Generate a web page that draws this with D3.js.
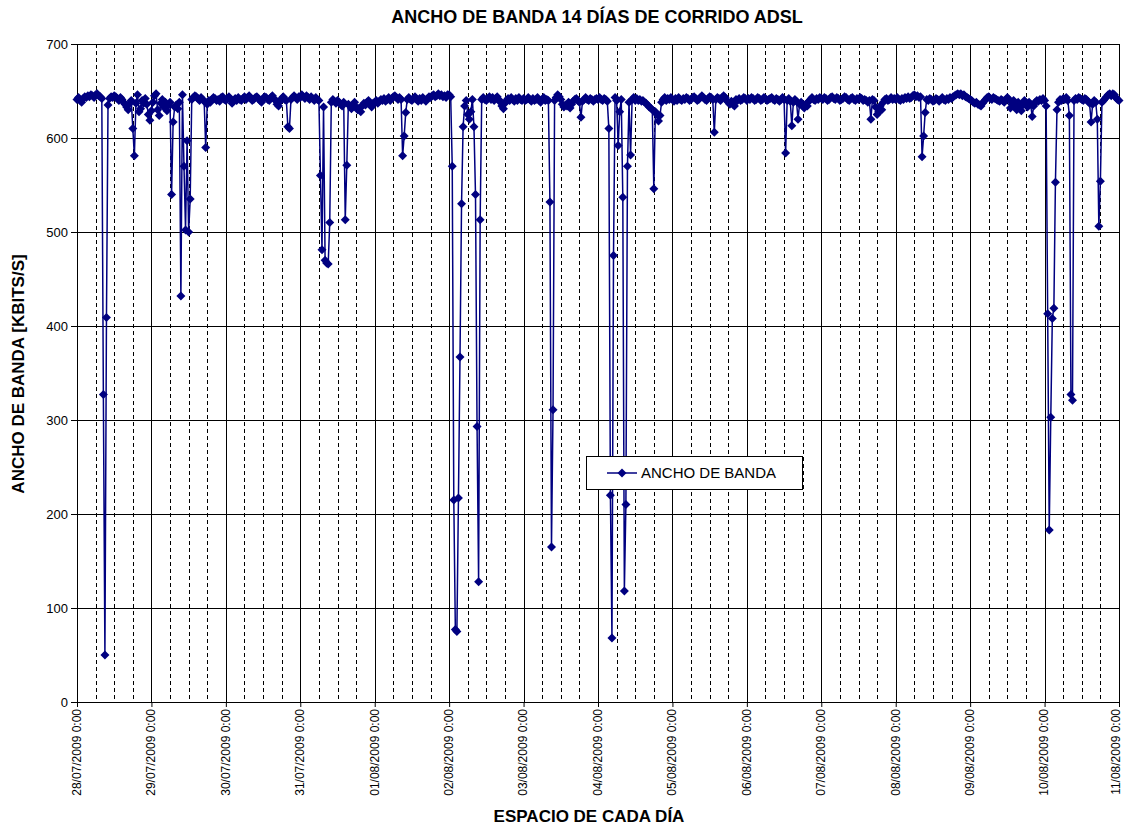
<!DOCTYPE html>
<html>
<head>
<meta charset="utf-8">
<script src="https://cdn.jsdelivr.net/npm/d3@7"></script>
<style>
  body { margin: 0; background: #fff; }
  text { font-family: Arial, "Liberation Sans", sans-serif; fill: #000; }
</style>
</head>
<body>
<svg id="chart" width="1124" height="827"></svg>
<script>
// Bandwidth samples (kbit/s), one every 30 minutes, one array per day
const seriesName = "ANCHO DE BANDA";
const startDate = new Date(2009, 6, 28, 0, 0);
const endDate = new Date(2009, 7, 11, 0, 0);
const stepMinutes = 30;
const yTicks = [0, 100, 200, 300, 400, 500, 600, 700];

const day0728 = [641,643,640,638,642,644,643,645,644,646, 645,643,646,647,645,644,642,327,50,409, 635,642,644,643,645,644,642,640,643,641, 638,636,633,630,637,640,610,581,637,646, 628,631,640,637,642,636,625,619];
const day0729 = [629,638,645,647,630,624,637,641,633,638, 629,635,638,540,617,633,635,631,638,432, 646,570,502,597,500,535,641,643,645,644, 642,640,643,641,639,590,636,640,638,641, 643,642,640,641,639,643,644,641];
const day0730 = [640,642,644,641,637,639,642,640,643,641, 640,642,644,641,643,645,642,640,641,643, 644,642,640,638,642,644,643,641,640,643, 645,642,640,636,634,639,642,644,641,640, 612,610,641,643,645,643,641,644];
const day0731 = [643,646,644,642,645,643,641,644,642,640, 643,641,640,560,481,633,470,467,466,510, 638,641,639,637,640,638,636,634,638,513, 571,636,634,631,635,638,633,630,632,628, 634,637,635,638,640,636,633,637];
const day0801 = [638,640,637,639,641,640,642,639,641,643, 640,642,644,645,643,641,643,641,581,602, 627,641,643,641,640,642,644,641,639,642, 640,643,641,639,642,644,643,645,646,644, 645,647,645,646,644,645,643,646];
const day0802 = [646,644,570,215,77,75,217,367,530,612, 634,640,625,620,628,641,612,540,293,128, 513,641,643,641,640,642,644,641,643,640, 642,644,641,638,634,631,637,640,642,640, 643,641,639,642,640,643,641,640];
const day0803 = [642,640,641,643,641,639,642,640,641,643, 640,638,641,643,640,641,640,532,165,311, 640,643,646,644,641,636,633,635,634,638, 632,636,639,641,642,640,638,622,639,641, 643,641,640,642,641,639,641,642];
const day0804 = [641,643,641,640,642,641,639,610,220,68, 475,643,640,592,628,641,537,118,210,570, 638,582,641,643,640,642,640,641,639,640, 638,637,635,633,632,630,546,628,625,618, 624,638,641,643,640,642,641,643];
const day0805 = [641,639,642,640,643,641,640,642,641,643, 642,640,641,643,644,642,640,641,643,645, 643,641,640,642,644,643,641,606,641,643, 642,640,643,645,643,640,638,636,639,636, 634,641,640,642,640,641,643,642];
const day0806 = [640,642,641,643,642,640,641,643,642,640, 641,643,642,640,641,642,643,641,640,642, 641,639,641,643,641,584,640,642,639,613, 638,641,639,620,636,638,634,632,636,634, 639,641,643,641,640,642,641,643];
const day0807 = [642,641,643,642,640,641,643,644,642,641, 643,642,640,641,642,644,643,641,640,642, 643,641,640,642,641,643,642,640,641,640, 638,640,620,641,640,633,625,628,634,630, 638,641,642,640,641,643,641,642];
const day0808 = [641,643,641,640,642,641,643,642,644,642, 643,645,646,644,645,643,644,580,602,627, 641,640,642,641,639,640,642,641,639,641, 643,641,640,642,641,643,642,644,645,646, 647,646,647,645,646,644,643,642];
const day0809 = [641,640,638,637,638,636,635,634,637,639, 641,643,644,642,641,643,642,641,640,639, 641,640,638,641,643,641,632,636,640,634, 630,638,632,629,636,640,637,633,638,636, 623,634,638,640,639,641,640,642];
const day0810 = [640,634,413,183,303,408,419,553,630,638, 641,640,642,641,643,640,624,327,321,640, 642,641,643,642,641,640,642,641,639,637, 617,636,640,638,620,506,554,638,640,642, 644,646,647,645,647,646,643,641];
const day0811 = [640];

const dayArrays = [day0728, day0729, day0730, day0731, day0801, day0802, day0803,
                   day0804, day0805, day0806, day0807, day0808, day0809, day0810, day0811];

const values = dayArrays.flat();
const data = values.map((v, i) => ({
  t: new Date(startDate.getTime() + i * stepMinutes * 60000),
  v: v
}));

const W = 1124, H = 827;
const plot = { left: 77, right: 1119, top: 44, bottom: 702 };
const navy = "#000080";

const svg = d3.select("#chart");
svg.append("rect").attr("width", W).attr("height", H).attr("fill", "#fff");

const x = d3.scaleTime().domain([startDate, endDate]).range([plot.left, plot.right]);
const y = d3.scaleLinear().domain([0, 700]).range([plot.bottom, plot.top]);

const crisp = v => Math.round(v) + 0.5;

// Vertical grid: solid at midnight, dashed every 6 hours in between
const grid = svg.append("g");
const sixHours = d3.timeHour.every(6).range(startDate, d3.timeHour.offset(endDate, 1));
grid.selectAll("line.v")
  .data(sixHours)
  .join("line")
  .attr("x1", d => crisp(x(d)))
  .attr("x2", d => crisp(x(d)))
  .attr("y1", plot.top)
  .attr("y2", plot.bottom)
  .attr("stroke", "#000")
  .attr("stroke-width", 1)
  .attr("stroke-dasharray", d => d.getHours() === 0 ? null : "4,3");

// Horizontal grid every 100
grid.selectAll("line.h")
  .data(yTicks.filter(d => d > 0))
  .join("line")
  .attr("x1", plot.left)
  .attr("x2", plot.right)
  .attr("y1", d => crisp(y(d)))
  .attr("y2", d => crisp(y(d)))
  .attr("stroke", "#000")
  .attr("stroke-width", 1);

// Axes
const yAxis = svg.append("g")
  .attr("transform", `translate(${crisp(plot.left) - 0.5},0)`)
  .call(d3.axisLeft(y).tickValues(yTicks).tickSize(6).tickPadding(3).tickFormat(d3.format("d")));
yAxis.select(".domain").attr("stroke", "#000");
yAxis.selectAll(".tick line").attr("stroke", "#000");
yAxis.selectAll("text").style("font-size", "13px").attr("font-family", "Arial, 'Liberation Sans', sans-serif");

const fmt = d3.timeFormat("%d/%m/%Y %-H:%M");
const xAxis = svg.append("g")
  .attr("transform", `translate(0,${crisp(plot.bottom) - 0.5})`)
  .call(d3.axisBottom(x).ticks(d3.timeDay.every(1)).tickFormat(fmt).tickSize(5).tickSizeOuter(0));
xAxis.select(".domain").attr("stroke", "#000");
xAxis.selectAll(".tick line").attr("stroke", "#000");
const lastTime = +endDate;
xAxis.selectAll("text")
  .style("font-size", "12px")
  .attr("font-family", "Arial, 'Liberation Sans', sans-serif")
  .attr("transform", "rotate(-90)")
  .attr("text-anchor", "end")
  .attr("x", -7)
  .attr("y", 0)
  // the rightmost label is nudged inward so it stays inside the page
  .attr("dy", d => +d === lastTime ? "0.05em" : "0.28em");

// Series line and markers
const line = d3.line().x(d => x(d.t)).y(d => y(d.v));
svg.append("path")
  .datum(data)
  .attr("fill", "none")
  .attr("stroke", navy)
  .attr("stroke-width", 1.5)
  .attr("stroke-linejoin", "round")
  .attr("d", line);

const diamond = "M0,-4.5L4.5,0L0,4.5L-4.5,0Z";
svg.append("g")
  .selectAll("path")
  .data(data)
  .join("path")
  .attr("transform", d => `translate(${x(d.t)},${y(d.v)})`)
  .attr("d", diamond)
  .attr("fill", navy);

// Legend
const lg = svg.append("g").attr("transform", "translate(586,456)");
lg.append("rect").attr("x", 0.5).attr("y", 0.5).attr("width", 216).attr("height", 33)
  .attr("fill", "#fff").attr("stroke", "#000").attr("stroke-width", 1);
lg.append("line").attr("x1", 21).attr("x2", 51).attr("y1", 17).attr("y2", 17)
  .attr("stroke", navy).attr("stroke-width", 1.5);
lg.append("path").attr("d", diamond).attr("transform", "translate(36,17)").attr("fill", navy);
lg.append("text").attr("x", 55).attr("y", 17).attr("dy", "0.35em")
  .style("font-size", "15px").text(seriesName);

// Titles
svg.append("text")
  .attr("x", 597).attr("y", 23)
  .attr("text-anchor", "middle")
  .style("font-size", "18px").style("font-weight", "bold")
  .text("ANCHO DE BANDA 14 DÍAS DE CORRIDO ADSL");

svg.append("text")
  .attr("transform", "translate(24,374) rotate(-90)")
  .attr("text-anchor", "middle")
  .style("font-size", "17px").style("font-weight", "bold")
  .text("ANCHO DE BANDA [KBITS/S]");

svg.append("text")
  .attr("x", 589).attr("y", 822)
  .attr("text-anchor", "middle")
  .style("font-size", "17px").style("font-weight", "bold")
  .text("ESPACIO DE CADA DÍA");
</script>
</body>
</html>
